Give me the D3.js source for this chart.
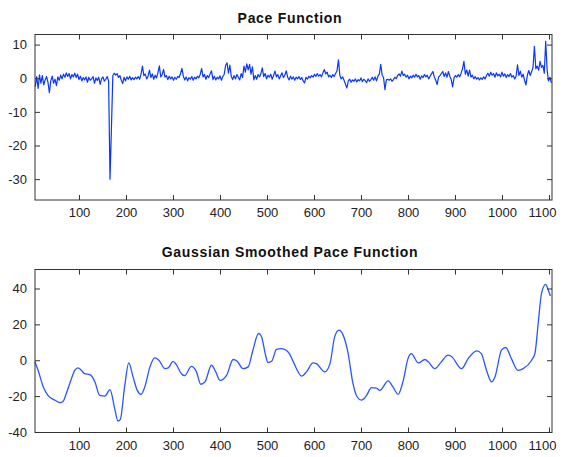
<!DOCTYPE html>
<html>
<head>
<meta charset="utf-8">
<script src="https://cdn.jsdelivr.net/npm/d3@7"></script>
<style>
  body { margin: 0; background: #fff; }
  svg { display: block; font-family: "Liberation Sans", Arial, sans-serif; }
  .title { font-weight: bold; font-size: 14px; letter-spacing: 0.7px; fill: #111; }
  .tick text { font-size: 13px; fill: #222; }
</style>
</head>
<body>
<div id="chart"></div>
<script>
// raw pace samples, first at x = 7, one every 3 units
const rawStart = 7, rawStep = 3;
const rawValues = [
  -2.5, 0.5, -3, 1, -1.5, 0.8, -2, -0.5, 0.5, -1.2,
  -4.3, -0.8, 0.6, -1.5, -0.3, -2.2, 0.4, -0.6, 0.9, -0.2,
  1.2, 0.3, 1.6, 0.5, 1.4, -0.2, 1.1, 0.4, 1.5, 0.2,
  1.2, -0.4, 0.6, -0.8, 0.2, -0.5, 0.4, -1.2, 0.3, -0.6,
  -0.2, 0.5, -1.5, 0.1, -0.7, 0.3, -1.8, -0.2, 0.4, -0.9,
  -0.3, 0.5, -0.8, -30, -15, 0.8, 1.5, 0.9, 1.4, 0.2,
  0.8, -0.6, -1.6, 0.3, -0.8, 0.4, -0.3, 0.6, -0.5, 0.2,
  -0.4, 0.3, -0.2, 0.5, -0.3, 1.2, 3.6, 0.8, 1.2, -0.2,
  0.6, 2.4, 0.2, 1.3, -0.3, 0.9, 0.1, 1.6, 3.7, 0.4,
  1.1, 2.6, 0.3, 0.8, -0.4, 0.6, -0.2, 0.4, -0.6, 0.3,
  -0.3, 0.5, 0.2, 1.4, 2.9, 0.6, -0.5, 0.4, -0.8, 0.2,
  -0.3, 0.5, -0.6, 0.3, -0.2, 0.6, 0.1, 1.2, 2.9, 0.4,
  1.1, -0.3, 0.8, 0.2, 1.3, 2.2, -0.4, 0.6, -0.5, 0.3,
  -0.2, 0.7, -0.6, 0.5, 1.2, 3.8, 4.6, 1.5, 3.9, 0.6,
  -0.4, 0.8, -0.2, 1.1, 0.3, -0.5, 1.4, 0.2, 3.6, 1.8,
  4.3, 2.5, 4.1, 1.2, 3.4, -0.5, 0.8, -0.3, 1.1, 0.4,
  1.3, 3.1, 0.5, 1.4, -0.2, 0.9, 0.3, 1.2, -0.3, 0.8,
  2.1, 0.4, 1.1, -0.2, 0.7, 1.6, 0.2, 0.9, 2.2, 0.3,
  -0.5, 0.6, -0.3, 0.4, -0.6, 0.3, -0.2, 0.5, -0.4, 0.2,
  -0.8, -1.4, 0.3, -0.3, 0.6, 0.1, 0.8, 0.3, 1.2, 0.5,
  1.4, 0.6, 1.1, 0.4, 1.6, 2.6, 1.3, 1.8, 0.4, 0.9,
  0.2, 1.1, 0.5, 1.4, 2.2, 5.5, 0.8, -0.2, 0.4, -0.6,
  -1.8, -2.9, -0.8, -0.3, -1.2, -0.5, -0.9, -0.2, -1.1, -0.4,
  -0.8, 0.1, -1.0, -0.3, -0.7, -1.3, -0.2, -0.9, -0.4, 0.3,
  -0.6, 0.4, -0.8, 0.6, 1.2, 4.1, 0.9, 0.2, -3.4, -0.5,
  -0.3, -0.6, -0.2, -0.9, -0.4, 0.3, -0.1, 0.8, 1.3, 0.6,
  2.1, 0.8, 1.2, 0.3, 0.9, -0.2, 0.6, 0.1, 0.9, 0.3,
  1.2, 0.4, 0.8, -0.3, 0.7, 0.2, 1.1, 0.4, 0.9, -0.2,
  0.6, 1.3, 2.0, 0.4, -0.6, -1.9, 0.3, 0.8, 1.4, 2.0,
  0.5, 1.6, 0.3, 2.0, 0.6, -0.4, -2.6, 0.2, 0.8, 0.3,
  1.1, 0.4, 1.5, 2.8, 5.0, 1.2, 2.5, 0.6, 2.4, 0.3,
  0.9, -0.2, 0.5, -0.3, 0.2, -0.5, 0.1, -0.3, 0.4, -0.2,
  0.8, 1.5, 0.6, 1.8, 0.9, 1.4, 0.3, 1.6, 0.7, 1.2,
  0.4, 1.8, 0.6, 1.3, 0.2, 1.1, 0.5, 1.4, 0.3, 0.8,
  -0.2, 0.6, 4.0, 0.8, 2.1, 0.3, 1.2, -0.6, -2.0, 0.9,
  2.3, 0.8, 1.9, 3.2, 9.5, 2.8, 3.6, 2.4, 5.0, 3.2,
  3.8, 1.5, 11.0, 2.5, -0.8, 0.3, -1.4
];

// gaussian smoothed curve, read at its turning points
const smoothX = [6, 13, 24, 34, 49, 59, 66, 73, 84, 91, 98, 105, 112, 123, 134, 144, 155, 166, 176, 183,
  188, 197, 206, 215, 224, 232, 240, 251, 261, 270, 283, 290, 300, 307, 318, 325, 339, 350, 359, 368,
  382, 391, 400, 414, 428, 436, 449, 460, 470, 482, 488, 497, 502, 510, 520, 531, 541, 548, 556, 574,
  584, 598, 605, 623, 634, 644, 653, 662, 672, 683, 692, 701, 712, 722, 733, 740, 758, 768, 779, 790,
  800, 807, 822, 836, 843, 857, 871, 885, 892, 914, 928, 946, 956, 967, 978, 985, 999, 1008, 1020, 1034,
  1045, 1063, 1070, 1077, 1084, 1093, 1098, 1103];
const smoothY = [-0.9, -5.6, -14.9, -19.6, -22.3, -23.6, -23, -18.6, -10.2, -5.6, -4.3, -5.6, -7.5, -8, -12.1, -19.6, -20, -16.4, -27, -33.9,
  -33, -14.9, -1.5, -9.3, -16.8, -19, -14.9, -3.7, 1.3, 0, -4.7, -4.3, -0.6, -2.4, -7.5, -8.6, -3.4, -6.5, -13.4, -12.1,
  -2.8, -6.5, -11.2, -8.4, 0.4, -0.4, -4.7, -3.7, 5.6, 14.9, 13.4, 2.8, -1.3, -0.6, 6, 6.5, 5.6, 3.5, -0.9, -8.9,
  -6.5, -1.5, -1.9, -6.5, -1.9, 13, 16.8, 14, 4.7, -13, -20.5, -22.3, -19.6, -15.3, -15.5, -16.8, -11.5, -14.9, -19, -11.2,
  0.9, 3.7, -1.5, 0.4, -0.9, -4.7, -0.9, 2.8, 2.2, -4.7, 0.9, 5.2, 3.7, -5.6, -12.1, -9.3, 5.6, 7.1, 0.9, -5.6,
  -4.7, 0, 3.7, 20.5, 37.2, 42.3, 39.5, 35.8];

const xTicks = [100, 200, 300, 400, 500, 600, 700, 800, 900, 1000, 1100];
const rawYTicks = [-30, -20, -10, 0, 10];
const smoothYTicks = [-40, -20, 0, 20, 40];

const width = 564, height = 457;
const left = 35, right = 552;

const svg = d3.select("#chart").append("svg")
  .attr("width", width)
  .attr("height", height);

svg.append("rect").attr("width", width).attr("height", height).attr("fill", "#fff");

const x = d3.scaleLinear().domain([6.4, 1106.4]).range([left, right]);
const plain = d => String(d);

const drawPanel = function (opts) {
  const y = d3.scaleLinear().domain(opts.yDomain).range([opts.bottom, opts.top]);
  const g = svg.append("g");

  // title
  g.append("text")
    .attr("class", "title")
    .attr("text-anchor", "middle")
    .attr("x", 290)
    .attr("y", opts.titleY)
    .text(opts.title);

  // data line
  const line = d3.line()
    .x(d => x(d[0]))
    .y(d => y(d[1]))
    .curve(opts.curve);

  g.append("path")
    .datum(opts.points)
    .attr("fill", "none")
    .attr("stroke", opts.color)
    .attr("stroke-width", opts.strokeWidth)
    .attr("stroke-linejoin", "round")
    .attr("d", line);

  // axes, ticks pointing inward
  const axes = [
    {gen: d3.axisBottom(x).tickValues(xTicks).tickFormat(plain).tickPadding(8), t: "translate(0," + opts.bottom + ")"},
    {gen: d3.axisTop(x).tickValues(xTicks).tickFormat(""), t: "translate(0," + opts.top + ")"},
    {gen: d3.axisLeft(y).tickValues(opts.yTicks).tickFormat(plain).tickPadding(8), t: "translate(" + left + ",0)"},
    {gen: d3.axisRight(y).tickValues(opts.yTicks).tickFormat(""), t: "translate(" + right + ",0)"}
  ];
  axes.forEach((a, k) => {
    const ag = g.append("g")
      .attr("transform", a.t)
      .call(a.gen.tickSizeInner(-5).tickSizeOuter(0));
    ag.select(".domain").remove();
    ag.selectAll(".tick line").attr("stroke", "#333");
    ag.selectAll(".tick text").attr("fill", "#222");
    // last x label is pulled in so it stays inside the figure
    if (k === 0) ag.selectAll(".tick text").filter(d => d === 1100).attr("dx", -7);
  });

  // box
  g.append("rect")
    .attr("x", left)
    .attr("y", opts.top)
    .attr("width", right - left)
    .attr("height", opts.bottom - opts.top)
    .attr("fill", "none")
    .attr("stroke", "#333")
    .attr("stroke-width", 1);
};

drawPanel({
  title: "Pace Function",
  titleY: 23,
  top: 34.5,
  bottom: 200,
  yDomain: [-36.2, 13],
  yTicks: rawYTicks,
  points: rawValues.map((v, i) => [rawStart + i * rawStep, v]),
  curve: d3.curveLinear,
  color: "#0a36ff",
  strokeWidth: 1.2
});

drawPanel({
  title: "Gaussian Smoothed Pace Function",
  titleY: 257,
  top: 269.5,
  bottom: 432.5,
  yDomain: [-40.3, 50.6],
  yTicks: smoothYTicks,
  points: smoothX.map((v, i) => [v, smoothY[i]]),
  curve: d3.curveMonotoneX,
  color: "#2a55ff",
  strokeWidth: 1.3
});
</script>
</body>
</html>
